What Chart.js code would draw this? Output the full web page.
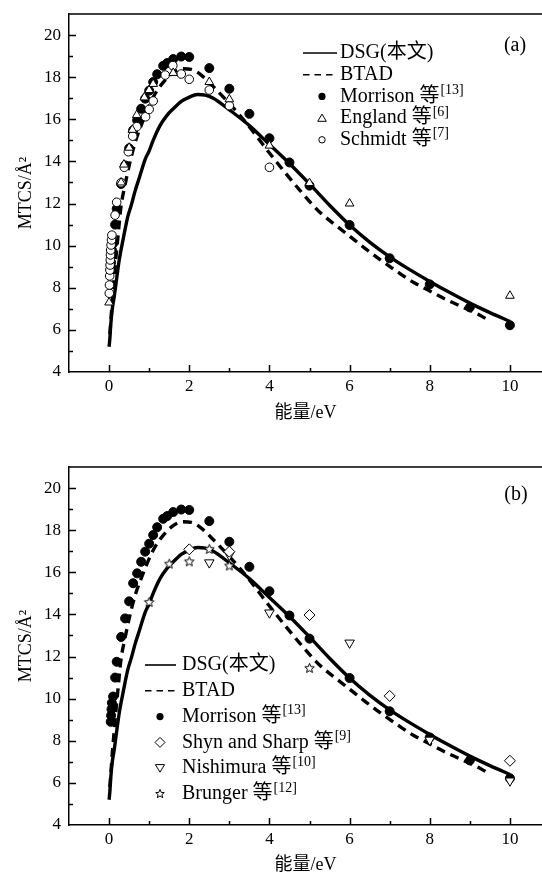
<!DOCTYPE html>
<html>
<head>
<meta charset="utf-8">
<script src="https://cdn.jsdelivr.net/npm/chart.js@4.4.1/dist/chart.umd.min.js"></script>
<style>
  body { margin: 0; background: #fff; }
  #wrap { position: relative; width: 542px; height: 877px; }
  canvas { position: absolute; left: 0; }
</style>
</head>
<body>
<div id="wrap">
  <canvas id="chartA" width="542" height="432" style="top:0"></canvas>
  <canvas id="chartB" width="542" height="440" style="top:437px"></canvas>
</div>
<script>
// tick labels
const xTickValues = [0, 2, 4, 6, 8, 10];
const yTickValues = [4, 6, 8, 10, 12, 14, 16, 18, 20];

// DSG (solid) model curve
const dsgE = [0, 0.02, 0.04, 0.08, 0.13, 0.2, 0.26, 0.35, 0.47, 0.55, 0.65, 0.75, 0.9, 1.0, 1.1, 1.27, 1.45, 1.6, 1.8, 2.0, 2.2, 2.4, 2.6, 3.0, 3.5, 4.0, 4.5, 5.0, 5.5, 6.0, 6.5, 7.0, 7.5, 8.0, 8.5, 9.0, 9.5, 10.0];
const dsgV = [5.2, 5.6, 6.2, 7.0, 7.6, 8.6, 9.4, 10.3, 11.4, 11.9, 12.6, 13.2, 14.1, 14.5, 15.0, 15.7, 16.2, 16.5, 16.85, 17.05, 17.18, 17.15, 17.0, 16.45, 15.7, 14.8, 13.9, 12.93, 11.92, 10.98, 10.17, 9.47, 8.86, 8.3, 7.77, 7.27, 6.82, 6.4];

// BTAD (dashed) model curve
const btadE = [0.02, 0.05, 0.08, 0.12, 0.16, 0.2, 0.25, 0.3, 0.4, 0.5, 0.65, 0.86, 1.1, 1.35, 1.6, 1.85, 2.05, 2.3, 2.6, 3.0, 3.3, 3.6, 4.0, 4.4, 4.75, 5.25, 5.7, 6.0, 6.4, 6.75, 7.2, 7.6, 8.0, 8.4, 8.85, 9.25, 9.5];
const btadV = [5.8, 6.6, 7.4, 8.3, 9.2, 10.0, 11.0, 11.9, 12.9, 13.8, 14.9, 16.0, 17.05, 17.75, 18.22, 18.4, 18.37, 18.1, 17.55, 16.75, 16.1, 15.4, 14.4, 13.45, 12.65, 11.6, 10.9, 10.45, 9.85, 9.35, 8.75, 8.25, 7.85, 7.45, 7.05, 6.7, 6.42];

// Morrison et al. [13]
const morrisonE = [0.04, 0.05, 0.06, 0.07, 0.1, 0.15, 0.19, 0.3, 0.4, 0.5, 0.6, 0.7, 0.8, 0.9, 1.0, 1.1, 1.2, 1.35, 1.45, 1.6, 1.8, 2.0, 2.5, 3.0, 3.5, 4.0, 4.5, 5.0, 6.0, 7.0, 8.0, 9.0, 10.0];
const morrisonV = [8.9, 9.2, 9.5, 9.8, 10.1, 11.0, 11.75, 12.93, 13.81, 14.62, 15.48, 15.95, 16.5, 16.98, 17.36, 17.77, 18.14, 18.54, 18.67, 18.86, 18.98, 18.96, 18.43, 17.45, 16.26, 15.1, 13.95, 12.85, 10.98, 9.4, 8.16, 7.07, 6.22];

// England et al. [6]
const englandE = [0.0, 0.3, 0.37, 0.5, 0.58, 0.69, 0.88, 1.0, 1.1, 1.6, 2.5, 3.0, 4.0, 5.0, 6.0, 10.0];
const englandV = [7.3, 13.0, 13.85, 14.65, 15.5, 16.2, 17.04, 17.39, 17.68, 18.2, 17.77, 16.95, 14.75, 12.97, 12.0, 7.62];

// Schmidt et al. [7]
const schmidtE = [0.005, 0.01, 0.015, 0.02, 0.025, 0.03, 0.035, 0.04, 0.05, 0.06, 0.07, 0.15, 0.19, 0.3, 0.38, 0.48, 0.59, 0.69, 0.91, 1.0, 1.1, 1.4, 1.59, 1.8, 2.0, 2.5, 3.0, 4.0];
const schmidtV = [7.74, 8.13, 8.56, 8.84, 9.08, 9.32, 9.56, 9.79, 10.03, 10.27, 10.5, 11.45, 12.06, 12.99, 13.72, 14.46, 15.2, 15.65, 16.12, 16.47, 16.87, 18.1, 18.55, 18.15, 17.9, 17.39, 16.65, 13.72];

// Shyn and Sharp [9]
const shynE = [2, 3, 5, 7, 10];
const shynV = [17.09, 16.98, 13.97, 10.13, 7.05];

// Nishimura et al. [10]
const nishimuraE = [2.5, 3, 4, 6, 8, 10];
const nishimuraV = [16.46, 16.82, 14.08, 12.65, 8.04, 6.1];

// Brunger et al. [12]
const brungerE = [1, 1.5, 2, 2.5, 3, 5];
const brungerV = [14.57, 16.39, 16.5, 17.09, 16.3, 11.44];

const serif = '"Liberation Serif", "Noto Sans CJK SC", serif';

function pts(xs, ys) {
  return xs.map((x, i) => ({ x: x, y: ys[i] }));
}

function makeStar(r) {
  const c = document.createElement('canvas');
  const s = Math.ceil(r * 2 + 3);
  c.width = c.height = s;
  const g = c.getContext('2d');
  g.beginPath();
  for (let i = 0; i < 10; i++) {
    const a = -Math.PI / 2 + i * Math.PI / 5;
    const rr = i % 2 ? r * 0.45 : r;
    g.lineTo(s / 2 + rr * Math.cos(a), s / 2 + rr * Math.sin(a));
  }
  g.closePath();
  g.fillStyle = '#fff';
  g.fill();
  g.lineWidth = 1;
  g.strokeStyle = '#000';
  g.stroke();
  return c;
}
const starBig = makeStar(5);
const starSmall = makeStar(4.5);

function curve(label, data, dash) {
  return {
    label: label, data: data, showLine: true, pointRadius: 0,
    borderColor: '#000', borderWidth: 3.4, borderDash: dash || [],
    cubicInterpolationMode: 'monotone', order: 10
  };
}

function marks(label, data, style, radius, filled, order, rotation) {
  return {
    label: label, data: data, showLine: false,
    pointStyle: style, pointRadius: radius, pointRotation: rotation || 0,
    pointBackgroundColor: filled ? '#000' : '#fff',
    pointBorderColor: '#000', pointBorderWidth: 1, order: order
  };
}

// small legend marker
function drawMarker(ctx, type, x, y) {
  ctx.save();
  ctx.lineWidth = 1;
  ctx.strokeStyle = '#000';
  ctx.fillStyle = '#fff';
  ctx.beginPath();
  if (type === 'dot') {
    ctx.arc(x, y, 3.6, 0, Math.PI * 2);
    ctx.fillStyle = '#000';
    ctx.fill();
  } else if (type === 'circle') {
    ctx.arc(x, y, 3.2, 0, Math.PI * 2);
    ctx.fill(); ctx.stroke();
  } else if (type === 'triangle') {
    ctx.moveTo(x, y - 4); ctx.lineTo(x + 4.3, y + 3.2); ctx.lineTo(x - 4.3, y + 3.2); ctx.closePath();
    ctx.fill(); ctx.stroke();
  } else if (type === 'down') {
    ctx.moveTo(x, y + 4); ctx.lineTo(x + 4.6, y - 3.6); ctx.lineTo(x - 4.6, y - 3.6); ctx.closePath();
    ctx.fill(); ctx.stroke();
  } else if (type === 'diamond') {
    ctx.moveTo(x, y - 5); ctx.lineTo(x + 5, y); ctx.lineTo(x, y + 5); ctx.lineTo(x - 5, y); ctx.closePath();
    ctx.fill(); ctx.stroke();
  } else if (type === 'star') {
    ctx.drawImage(starSmall, x - starSmall.width / 2, y - starSmall.height / 2);
  }
  ctx.restore();
}

const legendPlugin = {
  id: 'legendBox',
  afterDraw(chart, args, o) {
    const ctx = chart.ctx;
    ctx.save();
    ctx.fillStyle = '#000';
    ctx.strokeStyle = '#000';
    o.items.forEach((it, i) => {
      const y = o.y0 + i * o.dy;
      if (it.type === 'line' || it.type === 'dash') {
        ctx.beginPath();
        ctx.lineWidth = 1.6;
        ctx.setLineDash(it.type === 'dash' ? [6.5, 5] : []);
        ctx.moveTo(o.lx0, y); ctx.lineTo(o.lx1, y);
        ctx.stroke();
        ctx.setLineDash([]);
      } else {
        drawMarker(ctx, it.type, o.mx, y);
      }
      ctx.font = '20px ' + serif;
      ctx.textBaseline = 'middle';
      ctx.textAlign = 'left';
      ctx.fillText(it.text, o.tx, y);
      if (it.sup) {
        const w = ctx.measureText(it.text).width;
        ctx.font = '14px ' + serif;
        ctx.fillText(it.sup, o.tx + w + 1, y - 6);
      }
    });
    ctx.font = '20px ' + serif;
    ctx.textAlign = 'center';
    ctx.fillText(o.panel, o.px, o.py);
    ctx.restore();
  }
};

const framePlugin = {
  id: 'frame',
  afterDraw(chart) {
    const { ctx, chartArea: a, scales: { x, y } } = chart;
    ctx.save();
    ctx.strokeStyle = '#000';
    ctx.lineWidth = 1.5;
    ctx.beginPath();
    ctx.moveTo(a.left, a.top); ctx.lineTo(chart.width, a.top);
    for (let v = 0; v <= 10; v++) {
      const px = Math.round(x.getPixelForValue(v)) + 0.5;
      ctx.moveTo(px, a.bottom); ctx.lineTo(px, a.bottom - (v % 2 === 0 ? 7 : 4));
    }
    for (let v = 5; v <= 20; v++) {
      const py = Math.round(y.getPixelForValue(v)) + 0.5;
      ctx.moveTo(a.left, py); ctx.lineTo(a.left + (v % 2 === 0 ? 7 : 4), py);
    }
    ctx.stroke();
    ctx.restore();
  }
};

function makeChart(id, datasets, padTop, axisH, titlePad, legend) {
  return new Chart(document.getElementById(id), {
    type: 'scatter',
    data: { datasets: datasets },
    plugins: [framePlugin, legendPlugin],
    options: {
      responsive: false,
      animation: false,
      devicePixelRatio: 1,
      layout: { autoPadding: false, padding: { top: padTop, left: 0, right: 0, bottom: 0 } },
      plugins: { legend: { display: false }, tooltip: { enabled: false }, legendBox: legend },
      scales: {
        x: {
          type: 'linear', min: -1, max: 10.8,
          afterBuildTicks: s => { s.ticks = xTickValues.map(v => ({ value: v })); },
          afterFit: s => { s.height = axisH; s.paddingLeft = 0; s.paddingRight = 0; },
          grid: { display: false, drawTicks: false },
          border: { display: true, color: '#000', width: 1.5 },
          ticks: { color: '#000', font: { family: serif, size: 17 }, padding: 4, maxRotation: 0, autoSkip: false },
          title: { display: true, text: '能量/eV', color: '#000', font: { family: serif, size: 18 }, padding: { top: 0, bottom: titlePad } }
        },
        y: {
          type: 'linear', min: 4, max: 21,
          afterBuildTicks: s => { s.ticks = yTickValues.map(v => ({ value: v })); },
          afterFit: s => { s.width = 69; s.paddingTop = 0; s.paddingBottom = 0; },
          grid: { display: false, drawTicks: false },
          border: { display: true, color: '#000', width: 1.5 },
          ticks: { color: '#000', font: { family: serif, size: 17 }, padding: 8, autoSkip: false },
          title: { display: true, text: 'MTCS/Å²', color: '#000', font: { family: serif, size: 18 }, padding: { top: 15, bottom: 0 } }
        }
      }
    }
  });
}

makeChart('chartA', [
  curve('DSG', pts(dsgE, dsgV)),
  curve('BTAD', pts(btadE, btadV), [9, 6]),
  marks('Morrison', pts(morrisonE, morrisonV), 'circle', 4.5, true, 4),
  marks('England', pts(englandE, englandV), 'triangle', 5, false, 2),
  marks('Schmidt', pts(schmidtE, schmidtV), 'circle', 4.3, false, 3)
], 14, 60, 8, {
  items: [
    { type: 'line', text: 'DSG(本文)' },
    { type: 'dash', text: 'BTAD' },
    { type: 'dot', text: 'Morrison 等', sup: '[13]' },
    { type: 'triangle', text: 'England 等', sup: '[6]' },
    { type: 'circle', text: 'Schmidt 等', sup: '[7]' }
  ],
  y0: 53, dy: 21.7, lx0: 303, lx1: 337, mx: 322, tx: 340, panel: '(a)', px: 515, py: 46
});

makeChart('chartB', [
  curve('DSG', pts(dsgE, dsgV)),
  curve('BTAD', pts(btadE, btadV), [9, 6]),
  marks('Morrison', pts(morrisonE, morrisonV), 'circle', 4.5, true, 5),
  marks('Shyn and Sharp', pts(shynE, shynV), 'rectRot', 5.5, false, 3),
  marks('Nishimura', pts(nishimuraE, nishimuraV), 'triangle', 5.5, false, 4, 180),
  marks('Brunger', pts(brungerE, brungerV), starBig, 5, false, 2)
], 30, 52, 1, {
  items: [
    { type: 'line', text: 'DSG(本文)' },
    { type: 'dash', text: 'BTAD' },
    { type: 'dot', text: 'Morrison 等', sup: '[13]' },
    { type: 'diamond', text: 'Shyn and Sharp 等', sup: '[9]' },
    { type: 'down', text: 'Nishimura 等', sup: '[10]' },
    { type: 'star', text: 'Brunger 等', sup: '[12]' }
  ],
  y0: 228, dy: 25.8, lx0: 145, lx1: 176, mx: 160, tx: 182, panel: '(b)', px: 516, py: 58
});
</script>
</body>
</html>
